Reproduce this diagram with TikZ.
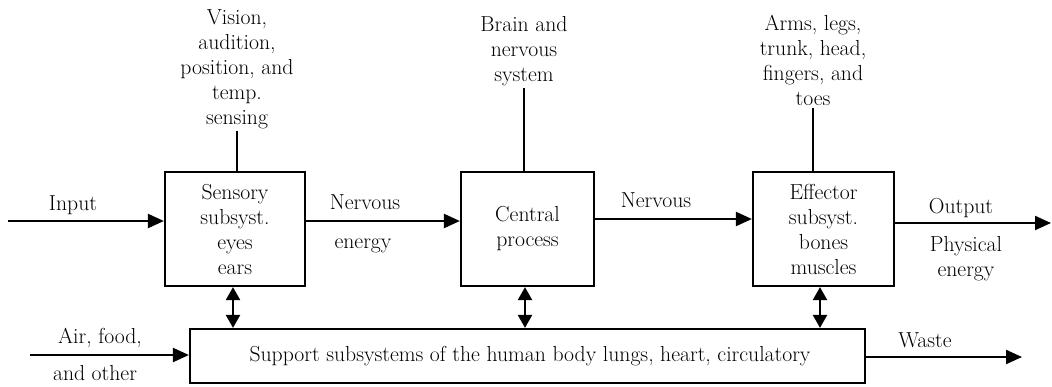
\documentclass[tikz,border=0pt]{standalone}
\usetikzlibrary{arrows.meta}
\begin{document}
\begin{tikzpicture}[x=1pt,y=-1pt,
  font=\fontsize{21.7}{25}\selectfont,
  every node/.style={align=center},
  blockbox/.style={draw,line width=2.2pt,inner sep=0pt},
  conn/.style={line width=2.2pt},
  flow/.style={line width=2.2pt,-{Triangle[length=16pt,width=14pt]}},
  both/.style={line width=2.2pt,{Triangle[length=13pt,width=14pt]}-{Triangle[length=13pt,width=14pt]}},
  lbl/.style={inner sep=2pt}]
\useasboundingbox (0,0) rectangle (1052,386);

% main blocks
\node[blockbox,minimum width=140pt,minimum height=114pt] (sens) at (235,229)
  {Sensory\\subsyst.\\eyes\\ears};
\node[blockbox,minimum width=133pt,minimum height=114pt] (cent) at (527.5,229)
  {Central\\process};
\node[blockbox,minimum width=141pt,minimum height=114pt] (eff) at (823.5,229)
  {Effector\\subsyst.\\bones\\muscles};
\node[blockbox,minimum width=675pt,minimum height=54pt] (sup) at (527.5,356)
  {\hspace*{5pt}Support subsystems of the human body lungs, heart, circulatory};

% descriptions above the blocks
\node[lbl,anchor=south] (vis) at (237,131)
  {Vision,\\audition,\\position, and\\temp.\\sensing};
\node[lbl,anchor=south] (brain) at (524,88)
  {Brain and\\nervous\\system};
\node[lbl,anchor=south] (arms) at (813,108)
  {Arms, legs,\\trunk, head,\\fingers, and\\toes};
\draw[conn] (vis.south) -- (vis.south |- sens.north);
\draw[conn] (brain.south) -- (brain.south |- cent.north);
\draw[conn] (arms.south) -- (arms.south |- eff.north);

% flows along the top row
\coordinate (inS) at (8,221);
\coordinate (outE) at (1051,223);
\draw[flow] (inS) -- (inS -| sens.west);
\draw[flow] (sens.east |- inS) -- (cent.west |- inS);
\draw[flow] ([yshift=2pt]cent.east |- inS) -- ([yshift=2pt]eff.west |- inS);
\draw[flow] (eff.east |- outE) -- (outE);

\node (input) at (73,205) {Input};
\node (nerv1) at (365,202) {Nervous};
\node (energy1) at (363,246) {energy};
\node (nerv2) at (656,200) {Nervous};
\node (output) at (961,208) {Output};
\node (phys) at (966,259) {Physical\\energy};

% links to the support subsystems
\draw[both] ([xshift=-2pt]sens.south) -- ([xshift=-2pt]sens.south |- sup.north);
\draw[both] ([xshift=-2.5pt]cent.south) -- ([xshift=-2.5pt]cent.south |- sup.north);
\draw[both] ([xshift=-3.5pt]eff.south) -- ([xshift=-3.5pt]eff.south |- sup.north);

% support inputs and waste
\coordinate (airS) at (30,355);
\coordinate (wasteE) at (1022,357);
\draw[flow] (airS) -- (airS -| sup.west);
\draw[flow] (sup.east |- wasteE) -- (wasteE);
\node (air) at (100,338) {Air, food,};
\node (other) at (95,373) {and other};
\node (waste) at (925,340) {Waste};
\end{tikzpicture}
\end{document}
